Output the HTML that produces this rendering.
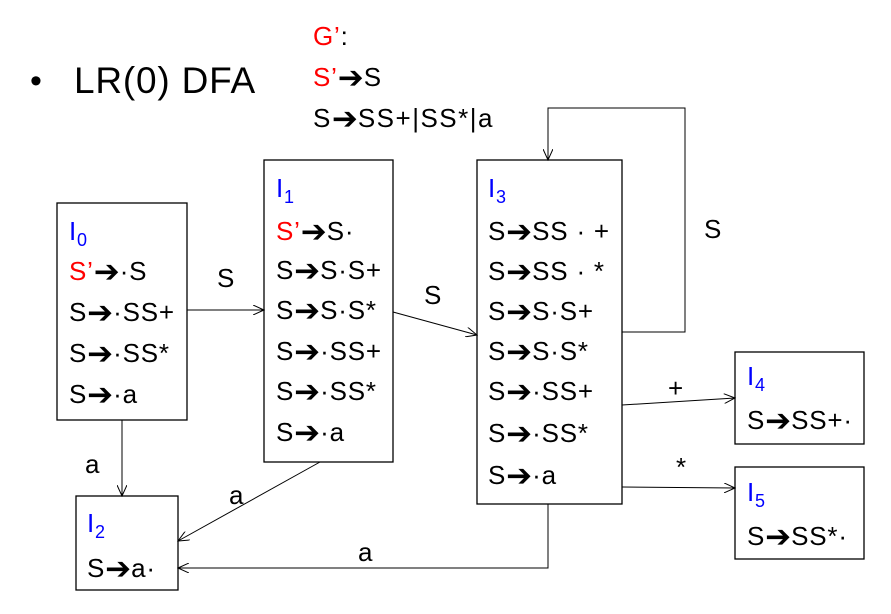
<!DOCTYPE html>
<html><head><meta charset="utf-8"><style>
body{margin:0;background:#fff}
svg text{font-family:"Liberation Sans","DejaVu Sans",sans-serif;font-size:26px;fill:#000;letter-spacing:0.8px}
.b{fill:#00f}.r{fill:#f00}.ar{font-weight:bold;font-family:"DejaVu Sans",sans-serif;font-size:31px;letter-spacing:0}
</style></head><body>
<svg width="891" height="609" viewBox="0 0 891 609" xmlns="http://www.w3.org/2000/svg">
<defs><marker id="m" markerWidth="12" markerHeight="10" refX="11" refY="5" orient="auto" markerUnits="userSpaceOnUse"><path d="M0,0 L11,5 L0,10" fill="none" stroke="#000" stroke-width="1"/></marker></defs>
<text x="30" y="92" style="font-size:34px">•</text>
<text x="74" y="93" style="font-size:37px">LR(0) DFA</text>
<text x="313" y="45"><tspan class="r">G’</tspan>:</text>
<text x="313" y="86"><tspan class="r">S’</tspan><tspan class="ar" dy="2">➔</tspan><tspan dy="-2">S</tspan></text>
<text x="313" y="127" style="letter-spacing:1.5px">S<tspan class="ar" dy="2">➔</tspan><tspan dy="-2">SS+|SS*|a</tspan></text>
<g fill="none" stroke="#000" stroke-width="1.3">
<rect x="57" y="203" width="130" height="217"/>
<rect x="264" y="160" width="129" height="302"/>
<rect x="477" y="160" width="145" height="344"/>
<rect x="735" y="352" width="129" height="92"/>
<rect x="735" y="467" width="129" height="92"/>
<rect x="76" y="496" width="102" height="94"/>
</g>
<g fill="none" stroke="#000" stroke-width="1">
<line x1="187" y1="310" x2="264" y2="310" marker-end="url(#m)"/>
<line x1="393" y1="312" x2="477" y2="335" marker-end="url(#m)"/>
<polyline points="622,332 685,332 685,108 548,108 548,160" marker-end="url(#m)"/>
<line x1="622" y1="405" x2="735" y2="398" marker-end="url(#m)"/>
<line x1="622" y1="487" x2="735" y2="488" marker-end="url(#m)"/>
<line x1="122" y1="420" x2="122" y2="496" marker-end="url(#m)"/>
<line x1="320" y1="462" x2="178" y2="541" marker-end="url(#m)"/>
<polyline points="548,504 548,568 178,568" marker-end="url(#m)"/>
</g>
<text x="217" y="287">S</text>
<text x="424" y="304">S</text>
<text x="704" y="238">S</text>
<text x="668" y="397">+</text>
<text x="676" y="476">*</text>
<text x="85" y="473">a</text>
<text x="229" y="504">a</text>
<text x="358" y="561">a</text>
<g>
<text x="69" y="240" class="b">I<tspan dy="6" style="font-size:18px" class="b">0</tspan></text>
<text x="69" y="280"><tspan class="r">S’</tspan><tspan class="ar" dy="2">➔</tspan><tspan dy="-2">·S</tspan></text>
<text x="69" y="321">S<tspan class="ar" dy="2">➔</tspan><tspan dy="-2">·SS+</tspan></text>
<text x="69" y="362">S<tspan class="ar" dy="2">➔</tspan><tspan dy="-2">·SS*</tspan></text>
<text x="69" y="403">S<tspan class="ar" dy="2">➔</tspan><tspan dy="-2">·a</tspan></text>

<text x="276" y="197" class="b">I<tspan dy="6" style="font-size:18px" class="b">1</tspan></text>
<text x="276" y="240"><tspan class="r">S’</tspan><tspan class="ar" dy="2">➔</tspan><tspan dy="-2">S·</tspan></text>
<text x="276" y="279">S<tspan class="ar" dy="2">➔</tspan><tspan dy="-2">S·S+</tspan></text>
<text x="276" y="319">S<tspan class="ar" dy="2">➔</tspan><tspan dy="-2">S·S*</tspan></text>
<text x="276" y="360">S<tspan class="ar" dy="2">➔</tspan><tspan dy="-2">·SS+</tspan></text>
<text x="276" y="400">S<tspan class="ar" dy="2">➔</tspan><tspan dy="-2">·SS*</tspan></text>
<text x="276" y="441">S<tspan class="ar" dy="2">➔</tspan><tspan dy="-2">·a</tspan></text>

<text x="488" y="197" class="b">I<tspan dy="6" style="font-size:18px" class="b">3</tspan></text>
<text x="488" y="240">S<tspan class="ar" dy="2">➔</tspan><tspan dy="-2">SS · +</tspan></text>
<text x="488" y="280">S<tspan class="ar" dy="2">➔</tspan><tspan dy="-2">SS · *</tspan></text>
<text x="488" y="320">S<tspan class="ar" dy="2">➔</tspan><tspan dy="-2">S·S+</tspan></text>
<text x="488" y="360">S<tspan class="ar" dy="2">➔</tspan><tspan dy="-2">S·S*</tspan></text>
<text x="488" y="400">S<tspan class="ar" dy="2">➔</tspan><tspan dy="-2">·SS+</tspan></text>
<text x="488" y="442">S<tspan class="ar" dy="2">➔</tspan><tspan dy="-2">·SS*</tspan></text>
<text x="488" y="484">S<tspan class="ar" dy="2">➔</tspan><tspan dy="-2">·a</tspan></text>

<text x="747" y="385" class="b">I<tspan dy="6" style="font-size:18px" class="b">4</tspan></text>
<text x="747" y="429">S<tspan class="ar" dy="2">➔</tspan><tspan dy="-2">SS+·</tspan></text>
<text x="747" y="501" class="b">I<tspan dy="6" style="font-size:18px" class="b">5</tspan></text>
<text x="747" y="545">S<tspan class="ar" dy="2">➔</tspan><tspan dy="-2">SS*·</tspan></text>
<text x="87" y="532" class="b">I<tspan dy="6" style="font-size:18px" class="b">2</tspan></text>
<text x="87" y="577">S<tspan class="ar" dy="2">➔</tspan><tspan dy="-2">a·</tspan></text>
</g>
</svg>
</body></html>
